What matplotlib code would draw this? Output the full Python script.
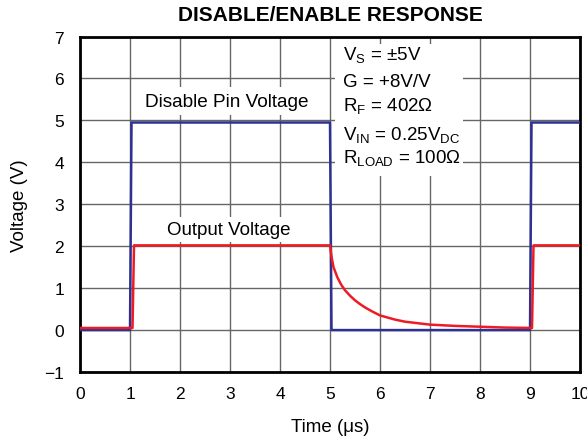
import numpy as np
import matplotlib
matplotlib.use("Agg")
import matplotlib.pyplot as plt
from matplotlib.patches import Rectangle

plt.rcParams['font.family'] = ['Liberation Sans', 'DejaVu Sans']
plt.rcParams['mathtext.fontset'] = 'custom'
plt.rcParams['mathtext.rm'] = 'Liberation Sans'

# disable pin voltage trace (time in us, volts)
pin_t = [0, 1.0, 1.03, 5.0, 5.03, 9.0, 9.03, 10]
pin_v = [0.0, 0.0, 4.95, 4.95, 0.0, 0.0, 4.95, 4.95]

# output voltage trace
out_t = [0, 1.05, 1.08, 5.0, 5.03, 5.07, 5.15, 5.23, 5.3, 5.4, 5.5, 5.6, 5.7,
         5.85, 6.0, 6.3, 6.5, 7.0, 7.5, 8.0, 8.5, 9.04, 9.07, 10]
out_v = [0.05, 0.05, 2.02, 2.02, 1.75, 1.5, 1.25, 1.07, 0.95, 0.82, 0.71, 0.62, 0.54,
         0.44, 0.35, 0.25, 0.2, 0.13, 0.1, 0.08, 0.06, 0.05, 2.02, 2.02]

cond_lines = [r'$\mathrm{V_S}$ = ±5V',
              'G = +8V/V',
              r'$\mathrm{R_F}$ = 402Ω',
              r'$\mathrm{V_{IN}}$ = 0.25$\mathrm{V_{DC}}$',
              r'$\mathrm{R_{LOAD}}$ = 100Ω']
cond_y = [6.46, 5.81, 5.25, 4.56, 4.0]

fig = plt.figure(figsize=(5.87, 4.39), dpi=100)
ax = fig.add_axes([0.1363, 0.1503, 0.8518, 0.7642])

ax.plot(pin_t, pin_v, color='#2e3192', lw=1.8, zorder=3)
ax.plot(out_t, out_v, color='#ed1c24', lw=1.8, zorder=4)

ax.set_xlim(0, 10)
ax.set_ylim(-1, 7)
ax.set_xticks(range(0, 11))
ax.set_yticks(range(-1, 8))
ax.grid(True, color='#666666', lw=1)
ax.set_axisbelow(True)
ax.tick_params(length=0, labelsize=12.5)
ax.tick_params(axis='x', pad=10)
ax.tick_params(axis='y', pad=11.5)
for s in ax.spines.values():
    s.set_linewidth(2)

ax.add_patch(Rectangle((5.1, 3.68), 2.56, 3.14, facecolor='white',
                       edgecolor='none', zorder=2))
for y, s in zip(cond_y, cond_lines):
    ax.text(5.26, y, s, fontsize=13.5, va='baseline', ha='left', zorder=5)

ax.text(2.93, 5.35, 'Disable Pin Voltage', fontsize=13.7, ha='center', va='baseline',
        bbox=dict(facecolor='white', edgecolor='none', pad=4), zorder=2)
ax.text(2.98, 2.30, 'Output Voltage', fontsize=13.5, ha='center', va='baseline',
        bbox=dict(facecolor='white', edgecolor='none', pad=3), zorder=2)

ax.text(0.5, 1.0656, 'DISABLE/ENABLE RESPONSE', fontsize=15, fontweight='bold',
        ha='center', va='center', transform=ax.transAxes)
ax.set_xlabel('Time (μs)', fontsize=13.5, va='center')
ax.xaxis.set_label_coords(0.5, -0.161)
ax.set_ylabel('Voltage (V)', fontsize=13.5, va='center')
ax.yaxis.set_label_coords(-0.122, 0.5)

fig.savefig('out.png', dpi=100)
